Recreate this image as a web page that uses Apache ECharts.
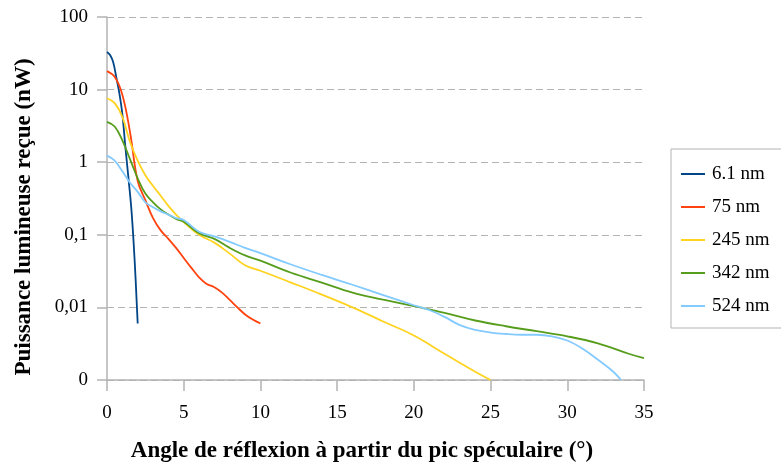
<!DOCTYPE html>
<html>
<head>
<meta charset="utf-8">
<script src="https://cdn.jsdelivr.net/npm/echarts@6/dist/echarts.min.js"></script>
<style>
  html, body { margin: 0; padding: 0; background: #fff; }
  #chart { width: 781px; height: 465px; }
</style>
</head>
<body>
<div id="chart"></div>
<script>
// Angular distribution of the received power for several layer thicknesses
const seriesNames = ['6.1 nm', '75 nm', '245 nm', '342 nm', '524 nm'];

const angle61 = [0, 0.2, 0.4, 0.6, 0.8, 1.0, 1.2, 1.4, 1.6, 1.8, 2.0];
const power61 = [33, 30, 24, 15, 9, 4.6, 1.6, 0.6, 0.21, 0.045, 0.006];

const angle75 = [0, 0.5, 1, 1.5, 2, 2.5, 3, 3.5, 4, 4.5, 5, 5.5, 6, 6.5, 7, 7.5, 8, 8.5, 9, 9.5, 10];
const power75 = [18, 15, 8.5, 2.6, 0.55, 0.3, 0.17, 0.115, 0.088, 0.066, 0.048, 0.035, 0.026, 0.021, 0.019, 0.016, 0.0127, 0.0100, 0.0080, 0.0068, 0.006];

const angle245 = [0, 0.5, 1, 1.5, 2, 2.5, 3, 3.5, 4, 4.5, 5, 6, 7, 8, 9, 10, 12, 14, 16, 18, 20, 22, 24, 25];
const power245 = [7.6, 6.5, 4.2, 1.9, 1.05, 0.66, 0.47, 0.345, 0.25, 0.19, 0.15, 0.1, 0.078, 0.055, 0.038, 0.032, 0.022, 0.015, 0.010, 0.0064, 0.0041, 0.0023, 0.0013, 0.001];

const angle342 = [0, 0.5, 1, 1.5, 2, 2.5, 3, 3.5, 4, 4.5, 5, 6, 7, 8, 9, 10, 12, 14, 16, 18, 20, 22, 24, 26, 28, 30, 32, 34, 35];
const power342 = [3.6, 3.1, 2.0, 1.1, 0.6, 0.37, 0.28, 0.224, 0.19, 0.166, 0.151, 0.105, 0.088, 0.066, 0.052, 0.044, 0.030, 0.022, 0.016, 0.0128, 0.0104, 0.0084, 0.0066, 0.0055, 0.0047, 0.004, 0.0032, 0.0023, 0.002];

const angle524 = [0, 0.5, 1, 1.5, 2, 2.5, 3, 3.5, 4, 4.5, 5, 6, 7, 8, 9, 10, 12, 14, 16, 18, 20, 21, 22, 23, 24, 25, 26, 27, 28, 29, 30, 31, 32, 33, 33.5];
const power524 = [1.23, 1.05, 0.75, 0.52, 0.39, 0.28, 0.24, 0.21, 0.19, 0.17, 0.16, 0.11, 0.095, 0.08, 0.066, 0.056, 0.039, 0.028, 0.0205, 0.0148, 0.0107, 0.0092, 0.0074, 0.0057, 0.0049, 0.0045, 0.0043, 0.0042, 0.0042, 0.0040, 0.0035, 0.0027, 0.0019, 0.0013, 0.001];

// Decade labels of the power axis, from 10^-3 to 10^2
const yTickLabels = ['0', '0,01', '0,1', '1', '10', '100'];
const yTickMinExp = -3;

const xAxisTitle = 'Angle de réflexion à partir du pic spéculaire (°)';
const yAxisTitle = 'Puissance lumineuse reçue (nW)';

const colors = ['#004586', '#ff420e', '#ffd320', '#579d1c', '#83caff'];
const angles = [angle61, angle75, angle245, angle342, angle524];
const powers = [power61, power75, power245, power342, power524];

const FONT = '"Liberation Serif", "Times New Roman", serif';
const GREY = '#b3b3b3';

function pairs(xs, ys) {
  return xs.map((x, i) => [x, ys[i]]);
}

const chart = echarts.init(document.getElementById('chart'), null, { renderer: 'canvas' });

chart.setOption({
  animation: false,
  color: colors,
  textStyle: { fontFamily: FONT },
  grid: { left: 107, right: 137, top: 17, bottom: 85, containLabel: false },
  xAxis: {
    type: 'value',
    min: 0,
    max: 35,
    interval: 5,
    axisLine: { show: true, lineStyle: { color: GREY, width: 1.5 } },
    axisTick: { show: true, length: 11, lineStyle: { color: GREY, width: 1.5 } },
    splitLine: { show: false },
    axisLabel: { margin: 24, color: '#000', fontSize: 19, fontFamily: FONT }
  },
  yAxis: {
    type: 'log',
    logBase: 10,
    min: 0.001,
    max: 100,
    axisLine: { show: true, lineStyle: { color: GREY, width: 1.5 } },
    axisTick: { show: true, length: 10, lineStyle: { color: GREY, width: 1.5 } },
    splitLine: { show: true, lineStyle: { color: GREY, width: 1.2, type: [7, 4] } },
    axisLabel: {
      margin: 19,
      color: '#000',
      fontSize: 19,
      fontFamily: FONT,
      formatter: function (v) {
        const e = Math.round(Math.log10(v));
        return yTickLabels[e - yTickMinExp];
      }
    }
  },
  legend: {
    orient: 'vertical',
    left: 671,
    top: 149,
    padding: [15, 30, 12, 10],
    itemGap: 13,
    itemWidth: 24,
    itemHeight: 2,
    icon: 'rect',
    borderColor: GREY,
    borderWidth: 1,
    textStyle: { fontSize: 19, lineHeight: 20, fontFamily: FONT, color: '#000', padding: [0, 0, 0, 2] },
    data: seriesNames
  },
  graphic: [
    {
      type: 'text',
      x: 362,
      y: 451,
      style: {
        text: xAxisTitle,
        font: 'bold 23px ' + FONT,
        fill: '#000',
        textAlign: 'center',
        textVerticalAlign: 'middle'
      }
    },
    {
      type: 'text',
      x: 24,
      y: 217,
      rotation: Math.PI / 2,
      style: {
        text: yAxisTitle,
        font: 'bold 23px ' + FONT,
        fill: '#000',
        textAlign: 'center',
        textVerticalAlign: 'middle'
      }
    }
  ],
  series: seriesNames.map((name, i) => ({
    name: name,
    type: 'line',
    smooth: 0.4,
    showSymbol: false,
    symbol: 'none',
    lineStyle: { width: 1.8, color: colors[i] },
    data: pairs(angles[i], powers[i])
  }))
});
</script>
</body>
</html>
